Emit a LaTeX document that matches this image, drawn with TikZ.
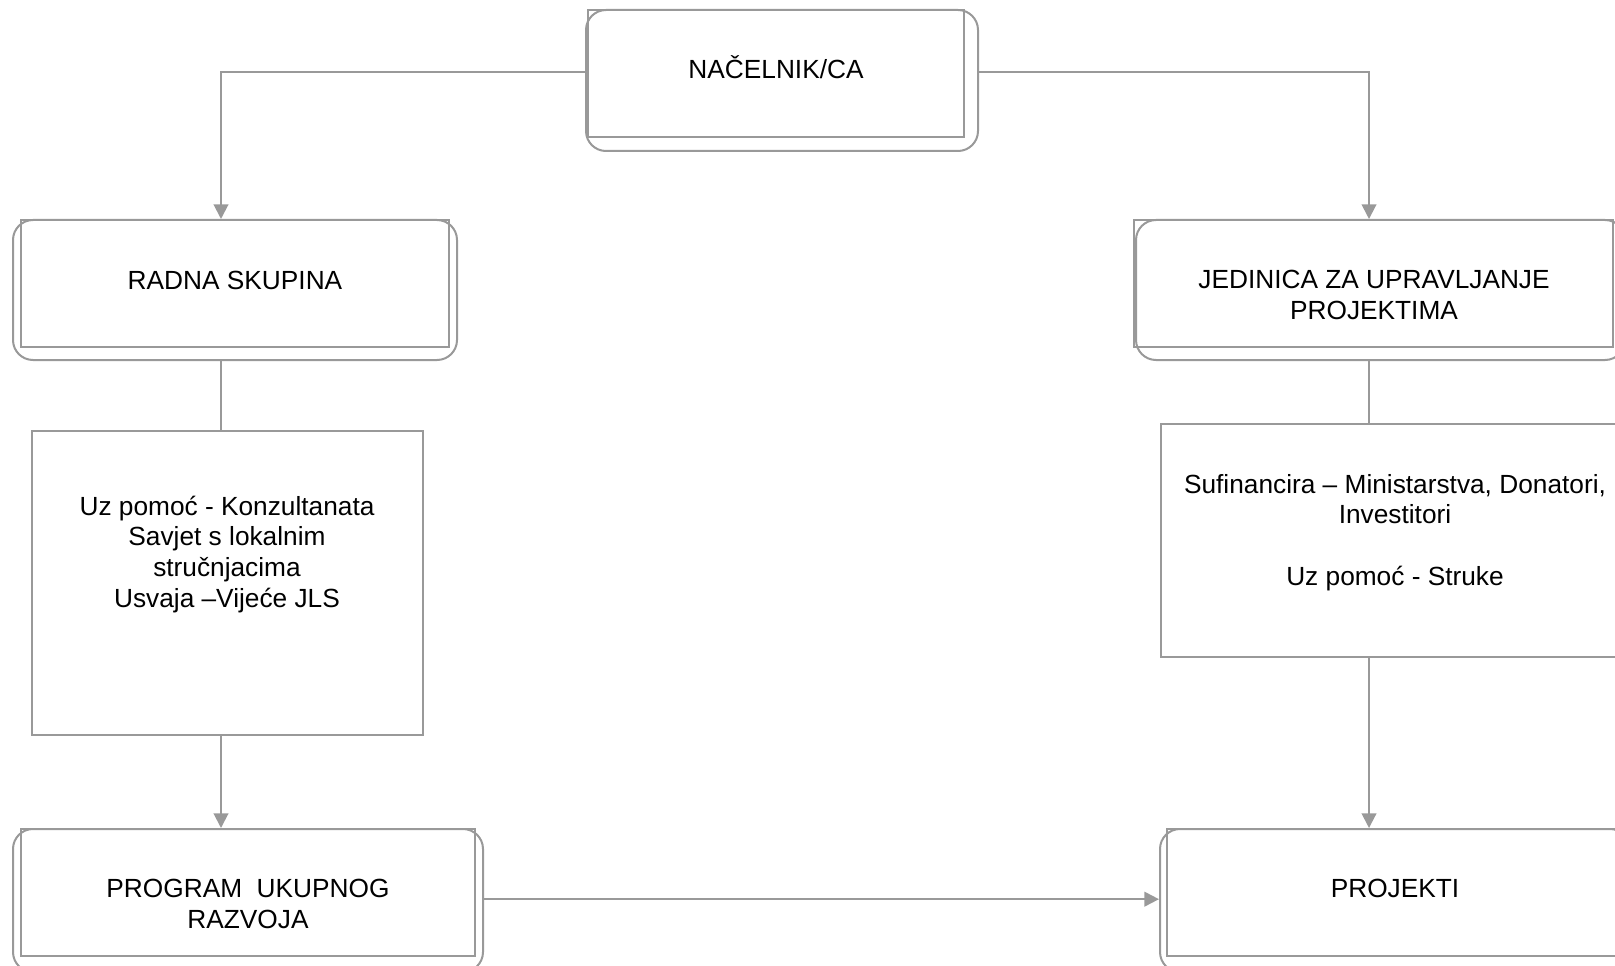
\documentclass[tikz,border=0pt]{standalone}
\usepackage{fontspec}
\setmainfont{Liberation Sans}
\usetikzlibrary{arrows.meta,calc}
\definecolor{lc}{RGB}{153,153,153}
\begin{document}
\begin{tikzpicture}[x=0.75pt,y=-0.75pt,
  box/.style={draw=lc,line width=1.5pt,rectangle,inner sep=0pt},
  rbox/.style={draw=lc,line width=1.5pt,rectangle,rounded corners=15pt,inner sep=0pt},
  txt/.style={align=center,font=\fontsize{19.7}{23}\selectfont,inner sep=0pt,text=black,anchor=base},
  conn/.style={draw=lc,line width=1.5pt},
  arr/.style={conn,-{Triangle[width=11pt,length=11pt]}}]
\useasboundingbox (0,0) rectangle (1615,966);
% top box
\node[rbox,minimum width={392*0.75pt},minimum height={141*0.75pt}] (TR) at (782,80.5) {};
\node[box,minimum width={376*0.75pt},minimum height={127*0.75pt}] (T) at (776,73.5) {};
\node[txt] (Tt) at (776,79) {NAČELNIK/CA};
% radna skupina
\node[rbox,minimum width={444*0.75pt},minimum height={140*0.75pt}] (RR) at (235,290) {};
\node[box,minimum width={428*0.75pt},minimum height={127*0.75pt}] (R) at (235,283.5) {};
\node[txt] (Rt) at (235,289) {RADNA SKUPINA};
% jedinica
\node[rbox,minimum width={489*0.75pt},minimum height={140*0.75pt}] (JR) at (1380.5,290) {};
\node[box,minimum width={479*0.75pt},minimum height={127*0.75pt}] (J) at (1373.5,283.5) {};
\node[txt] (Jt) at (1374,319) {JEDINICA ZA UPRAVLJANJE\\PROJEKTIMA};
% left middle
\node[box,minimum width={391*0.75pt},minimum height={304*0.75pt}] (L) at (227.5,583) {};
\node[txt] (Lt) at (227,607) {Uz pomoć - Konzultanata\\Savjet s lokalnim\\stručnjacima\\Usvaja –Vijeće JLS};
% right middle
\node[box,minimum width={464*0.75pt},minimum height={233*0.75pt}] (S) at (1393,540.5) {};
\node[txt] (St) at (1395,585) {Sufinancira – Ministarstva, Donatori,\\Investitori\\[23pt]Uz pomoć - Struke};
% program
\node[rbox,minimum width={470*0.75pt},minimum height={143*0.75pt}] (PR) at (248,900.5) {};
\node[box,minimum width={454*0.75pt},minimum height={127*0.75pt}] (P) at (248,892.5) {};
\node[txt] (Pt) at (248,928) {PROGRAM\ \ UKUPNOG\\RAZVOJA};
% projekti
\node[rbox,minimum width={470*0.75pt},minimum height={143*0.75pt}] (KR) at (1395,900.5) {};
\node[box,minimum width={458*0.75pt},minimum height={127*0.75pt}] (K) at (1396,892.5) {};
\node[txt] (Kt) at (1395,897) {PROJEKTI};
% connectors
\draw[arr] ([yshift=6.4pt]TR.west) -| ($(R.north)+(-14,0)$);
\draw[arr] ([yshift=6.4pt]TR.east) -| ($(J.north)+(-4.5,0)$);
\draw[conn] ($(RR.south)+(-14,0)$) -- ($(L.north)+(-6.5,0)$);
\draw[arr] ($(L.south)+(-6.5,0)$) -- ($(P.north)+(-27,0)$);
\draw[conn] ($(JR.south)+(-11.5,0)$) -- ($(S.north)+(-24,0)$);
\draw[arr] ($(S.south)+(-24,0)$) -- ($(K.north)+(-27,0)$);
\draw[arr] ([yshift=1pt]PR.east) -- ([yshift=1pt]KR.west);
\end{tikzpicture}
\end{document}
